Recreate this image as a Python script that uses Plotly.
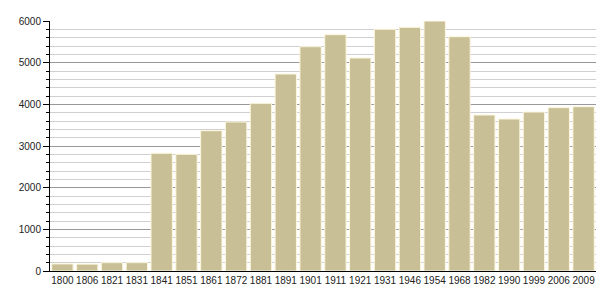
import plotly.graph_objects as go

years = ["1800", "1806", "1821", "1831", "1841", "1851", "1861", "1872", "1881", "1891",
         "1901", "1911", "1921", "1931", "1946", "1954", "1968", "1982", "1990", "1999",
         "2006", "2009"]
population = [170, 165, 200, 200, 2825, 2800, 3367, 3576, 4024, 4728,
              5383, 5671, 5112, 5800, 5848, 6000, 5623, 3744, 3648, 3816,
              3920, 3943]

y_ticks = [0, 1000, 2000, 3000, 4000, 5000, 6000]

fig = go.Figure(go.Bar(
    x=years, y=population,
    marker=dict(color="#c9bf97", line=dict(color="#fbf6dc", width=1)),
))

fig.update_layout(
    width=605, height=300,
    margin=dict(l=50, r=9, t=21, b=29),
    paper_bgcolor="white", plot_bgcolor="white",
    bargap=0.14,
    showlegend=False,
    font=dict(family="Liberation Sans, Arial, sans-serif", size=10, color="#222"),
)
fig.update_xaxes(
    type="category",
    showline=True, linecolor="black", linewidth=1,
    ticks="", showgrid=False,
    tickangle=0, automargin=False,
    tickfont=dict(size=10),
)
fig.update_yaxes(
    range=[0, 6000],
    tickvals=y_ticks,
    showline=True, linecolor="black", linewidth=1,
    ticks="outside", ticklen=6, tickcolor="black",
    showgrid=True, gridcolor="#999999", gridwidth=1,
    zeroline=False, automargin=False,
    minor=dict(dtick=200, showgrid=True, gridcolor="#d0d0d0", gridwidth=1,
               ticks="outside", ticklen=3, tickcolor="black"),
    tickfont=dict(size=10),
)

fig.write_html("out.html")
